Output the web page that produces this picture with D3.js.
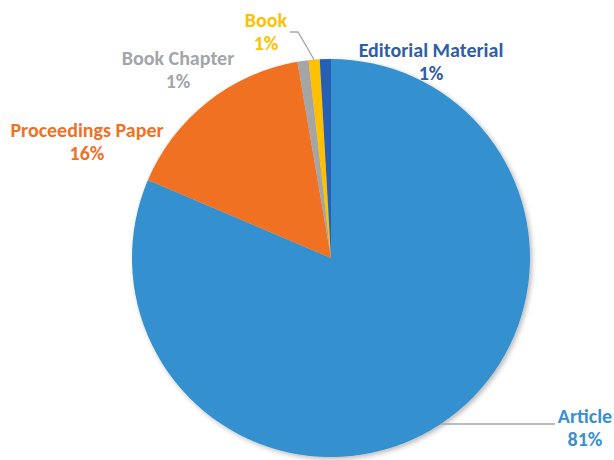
<!DOCTYPE html>
<html>
<head>
<meta charset="utf-8">
<script src="https://cdn.jsdelivr.net/npm/d3@7"></script>
<style>
  html, body { margin: 0; padding: 0; background: #fff; }
  svg { display: block; }
  text { font-family: Carlito, Lato, "Open Sans", sans-serif; font-weight: 700; }
</style>
</head>
<body>
<svg id="chart" width="614" height="460"></svg>
<script>
// Document types (share of records, %)
const categories = ["Article", "Proceedings Paper", "Book Chapter", "Book", "Editorial Material"];
const shares = [81.4, 15.9, 0.9, 0.9, 0.9];
const sliceColors = ["#3590D0", "#F07124", "#A5A5A5", "#FFC000", "#2660B4"];
const labelColors = ["#3A8FD2", "#F07124", "#A2A5A9", "#FFC000", "#2F5DA8"];

const width = 614, height = 460;
const cx = 331, cy = 258, radius = 199;

// label anchor (centre x, baseline of first line) and leader-line elbow, per slice
const labelLayout = [
  { x: 585, y: 423, leader: "flat" },
  { x: 87,  y: 137 },
  { x: 178, y: 65 },
  { x: 266, y: 27, leader: "elbow", elbow: [298, 32] },
  { x: 431, y: 57 }
];

const svg = d3.select("#chart");

const defs = svg.append("defs");
const shadow = defs.append("filter").attr("id", "shadow")
  .attr("x", "-10%").attr("y", "-10%").attr("width", "120%").attr("height", "120%");
shadow.append("feDropShadow")
  .attr("dx", 2).attr("dy", 2).attr("stdDeviation", 2.5)
  .attr("flood-color", "#000").attr("flood-opacity", 0.28);

const pie = d3.pie().sort(null).value(d => d).startAngle(0).endAngle(2 * Math.PI);
const arcs = pie(shares);
const arc = d3.arc().innerRadius(0).outerRadius(radius);

const g = svg.append("g").attr("transform", `translate(${cx},${cy})`);

g.append("g").attr("filter", "url(#shadow)")
  .selectAll("path")
  .data(arcs)
  .join("path")
  .attr("d", arc)
  .attr("fill", (d, i) => sliceColors[i]);

// point on the rim at a slice's middle angle, in page coordinates
function rimPoint(d) {
  const a = (d.startAngle + d.endAngle) / 2;
  return [cx + radius * Math.sin(a), cy - radius * Math.cos(a)];
}

const total = d3.sum(shares);
const fmt = v => Math.round(v / total * 100) + "%";

// leader lines
arcs.forEach((d, i) => {
  const L = labelLayout[i];
  if (!L.leader) return;
  const p = rimPoint(d);
  let pts;
  if (L.leader === "flat") {
    pts = [p, [L.x - 30, p[1]]];
  } else {
    pts = [p, L.elbow, [L.elbow[0] - 8, L.elbow[1]]];
  }
  svg.append("path")
    .attr("d", d3.line()(pts))
    .attr("fill", "none")
    .attr("stroke", "#A6A6A6")
    .attr("stroke-width", 1.3);
});

// data labels: category name and rounded percentage
const labels = svg.append("g").selectAll("text")
  .data(arcs)
  .join("text")
  .attr("text-anchor", "middle")
  .attr("font-size", 20)
  .attr("fill", (d, i) => labelColors[i]);

labels.append("tspan")
  .attr("x", (d, i) => labelLayout[i].x)
  .attr("y", (d, i) => labelLayout[i].y)
  .text((d, i) => categories[i]);
labels.append("tspan")
  .attr("x", (d, i) => labelLayout[i].x)
  .attr("y", (d, i) => labelLayout[i].y + 23)
  .text(d => fmt(d.value));
</script>
</body>
</html>
